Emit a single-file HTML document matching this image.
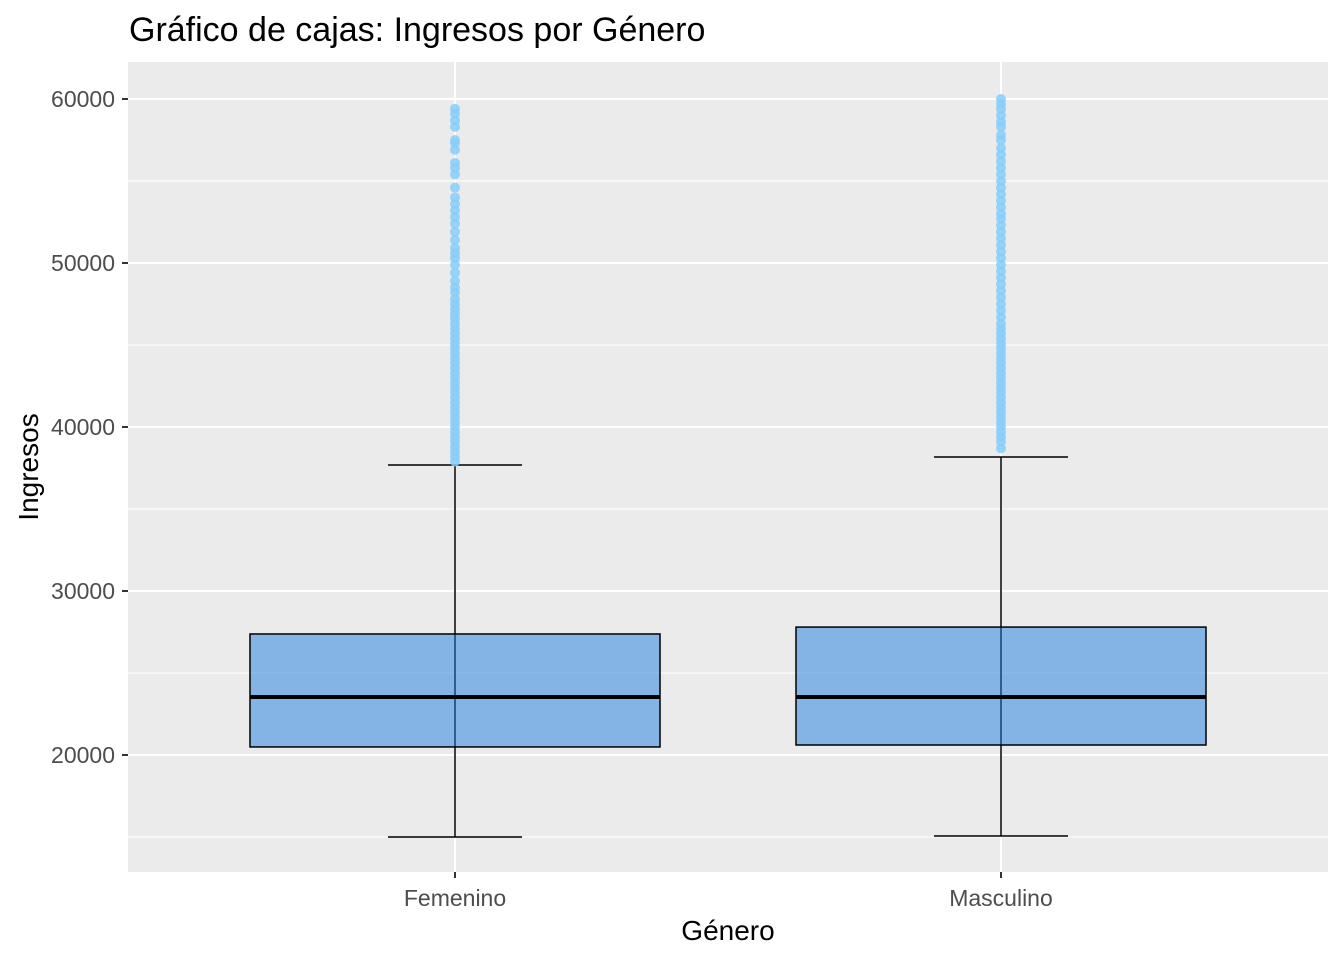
<!DOCTYPE html>
<html><head><meta charset="utf-8"><style>body{margin:0;background:#fff}svg{display:block;font-family:"Liberation Sans",Arial,sans-serif}</style></head>
<body>
<svg id="chart" width="1344" height="960">
<text x="129" y="41" font-size="34" fill="#000">Gráfico de cajas: Ingresos por Género</text>
<rect x="128" y="62" width="1200" height="810" fill="#ebebeb"/>
<g id="grid"></g><g id="marks"></g><g id="axes"></g>
<text x="728" y="940" font-size="28" text-anchor="middle" fill="#000">Género</text>
<text transform="translate(38,467) rotate(-90)" font-size="28" text-anchor="middle" fill="#000">Ingresos</text>
</svg>
<script>
const categories=["Femenino","Masculino"];
const q1=[20490,20610];
const medians=[23540,23540];
const q3=[27380,27800];
const whiskerLow=[15000,15060];
const whiskerHigh=[37680,38170];
const outliersFem=[59400,59100,58700,58300,57500,57300,56900,56100,55800,55400,54600,54000,53600,53200,52800,52400,51900,51400,50900,50600,50300,49900,49400,48900,48500,48200,47800,47500,47200,46900,46600,46300,46000,45700,45400,45100,44800,44500,44200,43900,43600,43300,43000,42700,42400,42100,41800,41500,41200,40900,40600,40300,40000,39700,39400,39100,38800,38500,38200,37900];
const outliersMasc=[60000,59700,59400,59000,58600,58300,57800,57500,57000,56600,56200,55800,55400,55000,54600,54200,53800,53400,53000,52700,52300,51900,51500,51100,50700,50300,49900,49500,49100,48700,48300,47900,47500,47100,46700,46300,46000,45700,45400,45100,44800,44500,44200,43900,43600,43300,43000,42700,42400,42100,41800,41500,41200,40900,40600,40300,40000,39700,39400,39100,38700];
const outliers=[outliersFem,outliersMasc];
const yTicks=[20000,30000,40000,50000,60000];
const yMinor=[15000,25000,35000,45000,55000];
const NS="http://www.w3.org/2000/svg";
function y(v){return 755-(v-20000)*0.0164;}
function x(i){return 455+i*546;}
function mk(t,a,p){const e=document.createElementNS(NS,t);for(const k in a)e.setAttribute(k,a[k]);p.appendChild(e);return e;}
const grid=document.getElementById('grid'),marks=document.getElementById('marks'),axes=document.getElementById('axes');
yMinor.forEach(v=>{const l=mk('line',{x1:128,x2:1328,y1:y(v),y2:y(v),stroke:'#fff','stroke-width':1},grid);

});
yTicks.forEach(v=>{const l=mk('line',{x1:128,x2:1328,y1:y(v),y2:y(v),stroke:'#fff','stroke-width':2},grid);


const tk=mk('line',{x1:122,x2:128,y1:y(v),y2:y(v),stroke:'#333','stroke-width':2},axes);


const t=mk('text',{x:115,y:y(v)+8,'font-size':23,'text-anchor':'end',fill:'#4d4d4d'},axes);t.textContent=v;

});
categories.forEach((c,i)=>{const cx=x(i);
const g=mk('line',{x1:cx,x2:cx,y1:62,y2:872,stroke:'#fff','stroke-width':2},grid);


const tk=mk('line',{x1:cx,x2:cx,y1:872,y2:878,stroke:'#333','stroke-width':2},axes);


const t=mk('text',{x:cx,y:906,'font-size':23,'text-anchor':'middle',fill:'#4d4d4d'},axes);t.textContent=c;


const wl=mk('line',{x1:cx,x2:cx,y1:y(whiskerHigh[i]),y2:y(whiskerLow[i]),stroke:'#000','stroke-width':1.5},marks);


[whiskerHigh[i],whiskerLow[i]].forEach(v=>{const cap=mk('line',{x1:cx-67,x2:cx+67,y1:y(v),y2:y(v),stroke:'#000','stroke-width':1.5},marks);

});
outliers[i].forEach(v=>{const p=mk('circle',{cx:cx,cy:y(v),r:5,fill:'#87cefa','fill-opacity':0.85},marks);

});
const b=mk('rect',{x:cx-205,y:y(q3[i]),width:410,height:y(q1[i])-y(q3[i]),fill:'#1e7de0','fill-opacity':0.5,stroke:'#000','stroke-width':1.5},marks);


const m=mk('line',{x1:cx-205,x2:cx+205,y1:y(medians[i]),y2:y(medians[i]),stroke:'#000','stroke-width':4},marks);

});
</script>
</body></html>
